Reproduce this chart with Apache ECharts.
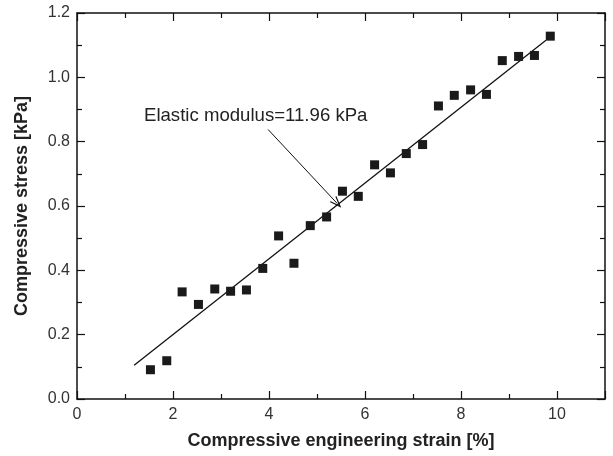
<!DOCTYPE html>
<html>
<head>
<meta charset="utf-8">
<script src="https://cdn.jsdelivr.net/npm/echarts@6/dist/echarts.min.js"></script>
<style>
  html, body { margin: 0; padding: 0; background: #fff; }
  #chart-root { width: 613px; height: 456px; }
</style>
</head>
<body>
<div id="chart-root"></div>
<script>
// strain [%] and stress [kPa]
const strain = [1.53, 1.87, 2.19, 2.53, 2.87, 3.20, 3.53, 3.87, 4.20, 4.52, 4.86, 5.20, 5.53,
  5.86, 6.20, 6.53, 6.86, 7.20, 7.53, 7.86, 8.20, 8.53, 8.86, 9.20, 9.53, 9.86]
const stress = [0.091, 0.119, 0.333, 0.294, 0.342, 0.335, 0.339, 0.406, 0.507, 0.422, 0.539, 0.566, 0.646,
  0.630, 0.728, 0.703, 0.763, 0.791, 0.911, 0.944, 0.961, 0.947, 1.052, 1.065, 1.068, 1.128]
// linear fit end points
const fitLine = [[1.19, 0.105], [9.77, 1.115]]
// annotation arrow (tail, head)
const arrowLine = [[3.98, 0.838], [5.42, 0.608]]
const noteText = 'Elastic modulus=11.96 kPa'
const xTicks = [0, 2, 4, 6, 8, 10]
const yTicks = [0.0, 0.2, 0.4, 0.6, 0.8, 1.0, 1.2]

let chart = echarts.init(document.getElementById('chart-root'))

const axisLine = { onZero: false, lineStyle: { color: '#111', width: 1.5 } }
const tick = { inside: true, length: 8, lineStyle: { color: '#111', width: 1.2 } }
const minor = { show: true, splitNumber: 2, length: 5, lineStyle: { color: '#111', width: 1.2 } }

let option = {
  animation: false,
  grid: { left: 77, right: 8, top: 13, bottom: 57 },
  xAxis: [
    {
      type: 'value', min: 0, max: 11, interval: 2,
      name: 'Compressive engineering strain [%]',
      nameLocation: 'middle', nameGap: 33,
      nameTextStyle: { fontFamily: 'Liberation Sans', fontWeight: 'bold', fontSize: 18, color: '#222' },
      axisLine: axisLine, axisTick: tick, minorTick: minor,
      splitLine: { show: false },
      axisLabel: {
        margin: 8, fontFamily: 'Liberation Sans', fontSize: 16, color: '#333',
        showMaxLabel: false,
        formatter: v => xTicks.indexOf(v) >= 0 ? String(v) : ''
      }
    },
    {
      type: 'value', min: 0, max: 11, interval: 2, position: 'top',
      axisLine: axisLine, axisTick: tick, minorTick: minor,
      splitLine: { show: false }, axisLabel: { show: false }
    }
  ],
  yAxis: [
    {
      type: 'value', min: 0, max: 1.2, interval: 0.2,
      name: 'Compressive stress [kPa]',
      nameLocation: 'middle', nameGap: 46,
      nameTextStyle: { fontFamily: 'Liberation Sans', fontWeight: 'bold', fontSize: 18, color: '#222' },
      axisLine: axisLine, axisTick: tick, minorTick: minor,
      splitLine: { show: false },
      axisLabel: {
        margin: 7, fontFamily: 'Liberation Sans', fontSize: 16, color: '#333',
        formatter: v => yTicks[Math.round(v / 0.2)].toFixed(1)
      }
    },
    {
      type: 'value', min: 0, max: 1.2, interval: 0.2, position: 'right',
      axisLine: axisLine, axisTick: tick, minorTick: minor,
      splitLine: { show: false }, axisLabel: { show: false }
    }
  ],
  graphic: [
    {
      type: 'text', left: 144, top: 106,
      style: { text: noteText, font: '18.6px "Liberation Sans"', fill: '#222' }
    }
  ],
  series: [
    {
      name: 'data',
      type: 'scatter',
      symbol: 'rect',
      symbolSize: 9,
      itemStyle: { color: '#1a1a1a', opacity: 1 },
      data: strain.map((x, i) => [x, stress[i]]),
      z: 3
    },
    {
      name: 'fit',
      type: 'line',
      showSymbol: false,
      symbol: 'none',
      lineStyle: { color: '#111', width: 1.3 },
      data: fitLine,
      markLine: {
        silent: true,
        // open V arrow head
        symbol: ['none', 'path://M0,12 L5,0 L10,12 L8.6,12 L5,3.4 L1.4,12 Z'],
        symbolSize: [9, 12],
        symbolOffset: [0, 0],
        label: { show: false },
        lineStyle: { color: '#111', width: 1, type: 'solid' },
        data: [[{ coord: arrowLine[0] }, { coord: arrowLine[1] }]]
      }
    }
  ]
}

chart.setOption(option)
</script>
</body>
</html>
